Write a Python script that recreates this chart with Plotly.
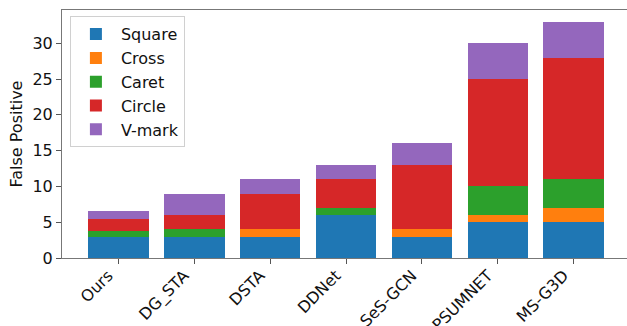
import plotly.graph_objects as go

methods = ["Ours", "DG_STA", "DSTA", "DDNet", "SeS-GCN", "PSUMNET", "MS-G3D"]
square = [3, 3, 3, 6, 3, 5, 5]
cross = [0, 0, 1, 0, 1, 1, 2]
caret = [0.8, 1, 0, 1, 0, 4, 4]
circle = [1.6, 2, 5, 4, 9, 15, 17]
vmark = [1.2, 3, 2, 2, 3, 5, 5]
y_ticks = [0, 5, 10, 15, 20, 25, 30]

series = [("Square", square, "#1f77b4"), ("Cross", cross, "#ff7f0e"),
          ("Caret", caret, "#2ca02c"), ("Circle", circle, "#d62728"),
          ("V-mark", vmark, "#9467bd")]

fig = go.Figure()
for name, vals, col in series:
    fig.add_trace(go.Bar(x=list(range(len(methods))), y=vals, name=name,
                         marker=dict(color=col, line=dict(width=0))))

fig.update_layout(
    barmode="stack", bargap=0.2,
    width=627, height=326,
    margin=dict(l=62, r=0, t=10, b=68),
    paper_bgcolor="white", plot_bgcolor="white",
    font=dict(family="DejaVu Sans", size=16, color="#111"),
    showlegend=True,
    legend=dict(x=0.014, y=0.975, xanchor="left", yanchor="top",
                bordercolor="#d0d0d0", borderwidth=1, bgcolor="rgba(255,255,255,0.8)",
                font=dict(size=16), tracegroupgap=0, traceorder="normal",
                itemwidth=40),
)
fig.update_xaxes(range=[-0.74, 6.70], tickmode="array",
                 tickvals=list(range(len(methods))), ticktext=methods,
                 tickangle=-45, showline=True, linecolor="#777", linewidth=1,
                 mirror=True, ticks="outside", ticklen=5, tickcolor="#555",
                 showgrid=False, zeroline=False, tickfont=dict(size=16),
                 ticklabelstandoff=-4, ticklabelshift=-10,
                 automargin=False)
fig.update_yaxes(range=[0, 34.65], tickvals=y_ticks, showline=True,
                 linecolor="#777", linewidth=1, ticks="outside", ticklen=5,
                 tickcolor="#555", showgrid=False, zeroline=False,
                 title=dict(text="False Positive", font=dict(size=16), standoff=5),
                 tickfont=dict(size=16), automargin=False)

fig.write_html("out.html")
